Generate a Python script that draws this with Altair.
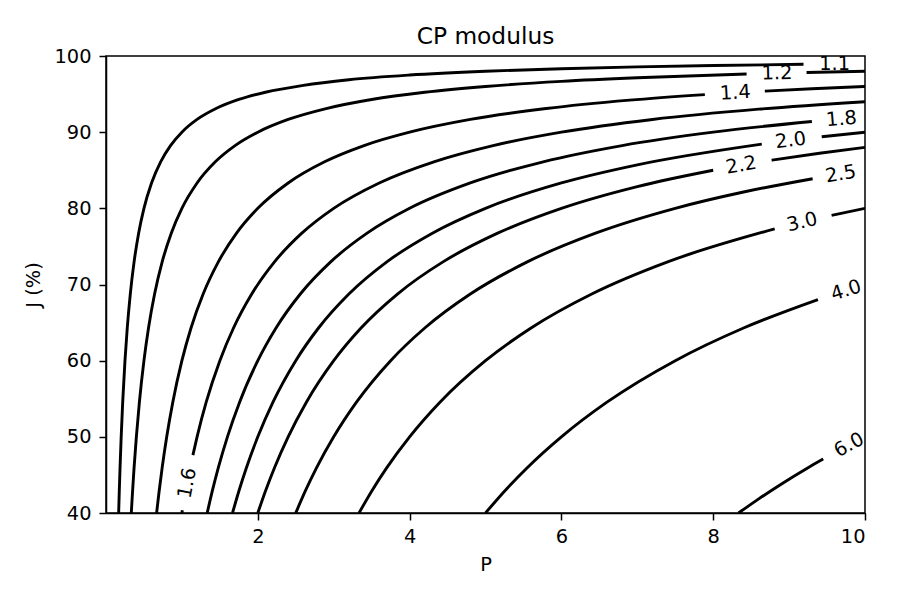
import altair as alt
import pandas as pd

# Contour levels of the "CP modulus" and the points.
# None marks a break in a line, where its inline label sits.
LEVELS = [1.1, 1.2, 1.4, 1.6, 1.8, 2.0, 2.2, 2.5, 3.0, 4.0, 6.0]

P_11 = [0.1667, 0.175, 0.185, 0.2, 0.22, 0.25, 0.28, 0.32, 0.37, 0.43, 0.5, 0.6, 0.72, 0.85, 1.0, 1.2, 1.45, 1.75, 2.1, 2.6, 3.2, 4.0, 5.0, 6.0, 7.0, 8.0, 9.19]
J_11 = [40.0, 42.86, 45.95, 50.0, 54.55, 60.0, 64.29, 68.75, 72.97, 76.74, 80.0, 83.33, 86.11, 88.24, 90.0, 91.67, 93.10, 94.29, 95.24, 96.15, 96.88, 97.5, 98.0, 98.33, 98.57, 98.75, 98.91]

P_12 = [0.3333, 0.35, 0.37, 0.4, 0.44, 0.5, 0.56, 0.64, 0.74, 0.86, 1.0, 1.2, 1.44, 1.7, 2.0, 2.4, 2.9, 3.5, 4.2, 5.0, 6.0, 7.0, 8.44, None, 9.23, 10.0]
J_12 = [40.0, 42.86, 45.95, 50.0, 54.55, 60.0, 64.29, 68.75, 72.97, 76.74, 80.0, 83.33, 86.11, 88.24, 90.0, 91.67, 93.10, 94.29, 95.24, 96.0, 96.67, 97.14, 97.63, None, 97.83, 98.0]

P_14 = [0.6667, 0.7, 0.74, 0.8, 0.88, 1.0, 1.12, 1.28, 1.48, 1.72, 2.0, 2.4, 2.88, 3.4, 4.0, 4.8, 5.8, 6.9, 7.89, None, 8.68, 9.3, 10.0]
J_14 = [40.0, 42.86, 45.95, 50.0, 54.55, 60.0, 64.29, 68.75, 72.97, 76.74, 80.0, 83.33, 86.11, 88.24, 90.0, 91.67, 93.10, 94.20, 94.93, None, 95.39, 95.70, 96.0]

P_16 = [1.0, 1.006, None, 1.145, 1.2, 1.32, 1.5, 1.68, 1.92, 2.22, 2.58, 3.0, 3.6, 4.32, 5.1, 6.0, 7.2, 8.6, 10.0]
J_16 = [40.0, 40.36, None, 47.60, 50.0, 54.55, 60.0, 64.29, 68.75, 72.97, 76.74, 80.0, 83.33, 86.11, 88.24, 90.0, 91.67, 93.02, 94.0]

P_18 = [1.3333, 1.4, 1.48, 1.6, 1.76, 2.0, 2.24, 2.56, 2.96, 3.44, 4.0, 4.8, 5.76, 6.8, 8.0, 9.3]
J_18 = [40.0, 42.86, 45.95, 50.0, 54.55, 60.0, 64.29, 68.75, 72.97, 76.74, 80.0, 83.33, 86.11, 88.24, 90.0, 91.40]

P_20 = [1.6667, 1.75, 1.85, 2.0, 2.2, 2.5, 2.8, 3.2, 3.7, 4.3, 5.0, 6.0, 7.0, 8.64, None, 9.43, 10.0]
J_20 = [40.0, 42.86, 45.95, 50.0, 54.55, 60.0, 64.29, 68.75, 72.97, 76.74, 80.0, 83.33, 85.71, 88.43, None, 89.40, 90.0]

P_22 = [2.0, 2.1, 2.22, 2.4, 2.64, 3.0, 3.36, 3.84, 4.44, 5.16, 6.0, 7.0, 8.0, None, 8.77, 9.4, 10.0]
J_22 = [40.0, 42.86, 45.95, 50.0, 54.55, 60.0, 64.29, 68.75, 72.97, 76.74, 80.0, 82.86, 85.0, None, 86.32, 87.23, 88.0]

P_25 = [2.5, 2.625, 2.775, 3.0, 3.3, 3.75, 4.2, 4.8, 5.55, 6.45, 7.5, 8.4, 9.31]
J_25 = [40.0, 42.86, 45.95, 50.0, 54.55, 60.0, 64.29, 68.75, 72.97, 76.74, 80.0, 82.14, 83.89]

P_30 = [3.3333, 3.5, 3.7, 4.0, 4.4, 5.0, 5.6, 6.4, 7.4, 8.81, None, 9.56, 10.0]
J_30 = [40.0, 42.86, 45.95, 50.0, 54.55, 60.0, 64.29, 68.75, 72.97, 77.30, None, 79.08, 80.0]

P_40 = [5.0, 5.25, 5.55, 6.0, 6.6, 7.5, 8.4, 9.38]
J_40 = [40.0, 42.86, 45.95, 50.0, 54.55, 60.0, 64.29, 68.02]

P_60 = [8.3333, 8.6, 8.9, 9.25, 9.45]
J_60 = [40.0, 41.86, 43.82, 45.95, 47.09]

P_LINES = [P_11, P_12, P_14, P_16, P_18, P_20, P_22, P_25, P_30, P_40, P_60]
J_LINES = [J_11, J_12, J_14, J_16, J_18, J_20, J_22, J_25, J_30, J_40, J_60]

# Inline contour labels
LABEL_TEXT = ["1.1", "1.2", "1.4", "1.6", "1.8", "2.0", "2.2", "2.5", "3.0", "4.0", "6.0"]
LABEL_P = [9.60, 8.84, 8.29, 1.07, 9.69, 9.02, 8.37, 9.68, 9.17, 9.75, 9.79]
LABEL_J = [98.96, 97.74, 95.17, 43.93, 91.74, 88.91, 85.66, 84.50, 78.19, 69.23, 48.93]
LABEL_ANGLE = [359.4, 358.5, 356.7, 280.8, 355.1, 353.0, 350.2, 350.9, 346.6, 342.4, 332.4]

X_TICKS = [2, 4, 6, 8, 10]
Y_TICKS = [40, 50, 60, 70, 80, 90, 100]

rows = []
for lvl, ps, js in zip(LEVELS, P_LINES, J_LINES):
    seg = 0
    for p, j in zip(ps, js):
        if p is None:
            seg += 1
            continue
        rows.append({"P": p, "J": j, "key": f"{lvl}-{seg}"})
lines_df = pd.DataFrame(rows)

labels_df = pd.DataFrame({"P": LABEL_P, "J": LABEL_J, "text": LABEL_TEXT, "angle": LABEL_ANGLE})

FONT = "DejaVu Sans"
FS = 19.4

x_enc = alt.X(
    "P:Q",
    scale=alt.Scale(domain=[0, 10], nice=False, zero=False),
    axis=alt.Axis(values=X_TICKS, title="P", grid=False, format="d", labelPadding=7, titlePadding=10),
)
y_enc = alt.Y(
    "J:Q",
    scale=alt.Scale(domain=[40, 100], nice=False, zero=False),
    axis=alt.Axis(values=Y_TICKS, title="J (%)", grid=False, format="d", labelPadding=8, titlePadding=10),
)

lines = alt.Chart(lines_df).mark_line(
    color="black", strokeWidth=2.9, interpolate="monotone", clip=True
).encode(x=x_enc, y=y_enc, detail="key:N", order="P:Q")

labels = alt.Chart(labels_df).mark_text(
    color="black", fontSize=FS, font=FONT, align="center", baseline="middle", clip=True
).encode(
    x="P:Q",
    y="J:Q",
    text="text:N",
    angle=alt.Angle("angle:Q", scale=None),
)

chart = (
    alt.layer(lines, labels)
    .properties(
        width=759,
        height=457,
        autosize=alt.AutoSizeParams(type="none"),
        padding={"left": 98, "top": 48, "right": 20, "bottom": 80},
        title=alt.TitleParams(
            "CP modulus", fontSize=23.3, font=FONT, fontWeight="normal", color="black",
            anchor="middle", offset=2, dy=5,
        ),
    )
    .configure_view(stroke="black", strokeWidth=1.5)
    .configure_axis(
        domainColor="black", domainWidth=1.5, tickColor="black", tickWidth=1.5, tickSize=7,
        labelColor="black", labelFont=FONT, labelFontSize=FS,
        titleColor="black", titleFont=FONT, titleFontSize=FS, titleFontWeight="normal",
    )
)

chart.save("out.html", embed_options={"renderer": "svg", "actions": False})
